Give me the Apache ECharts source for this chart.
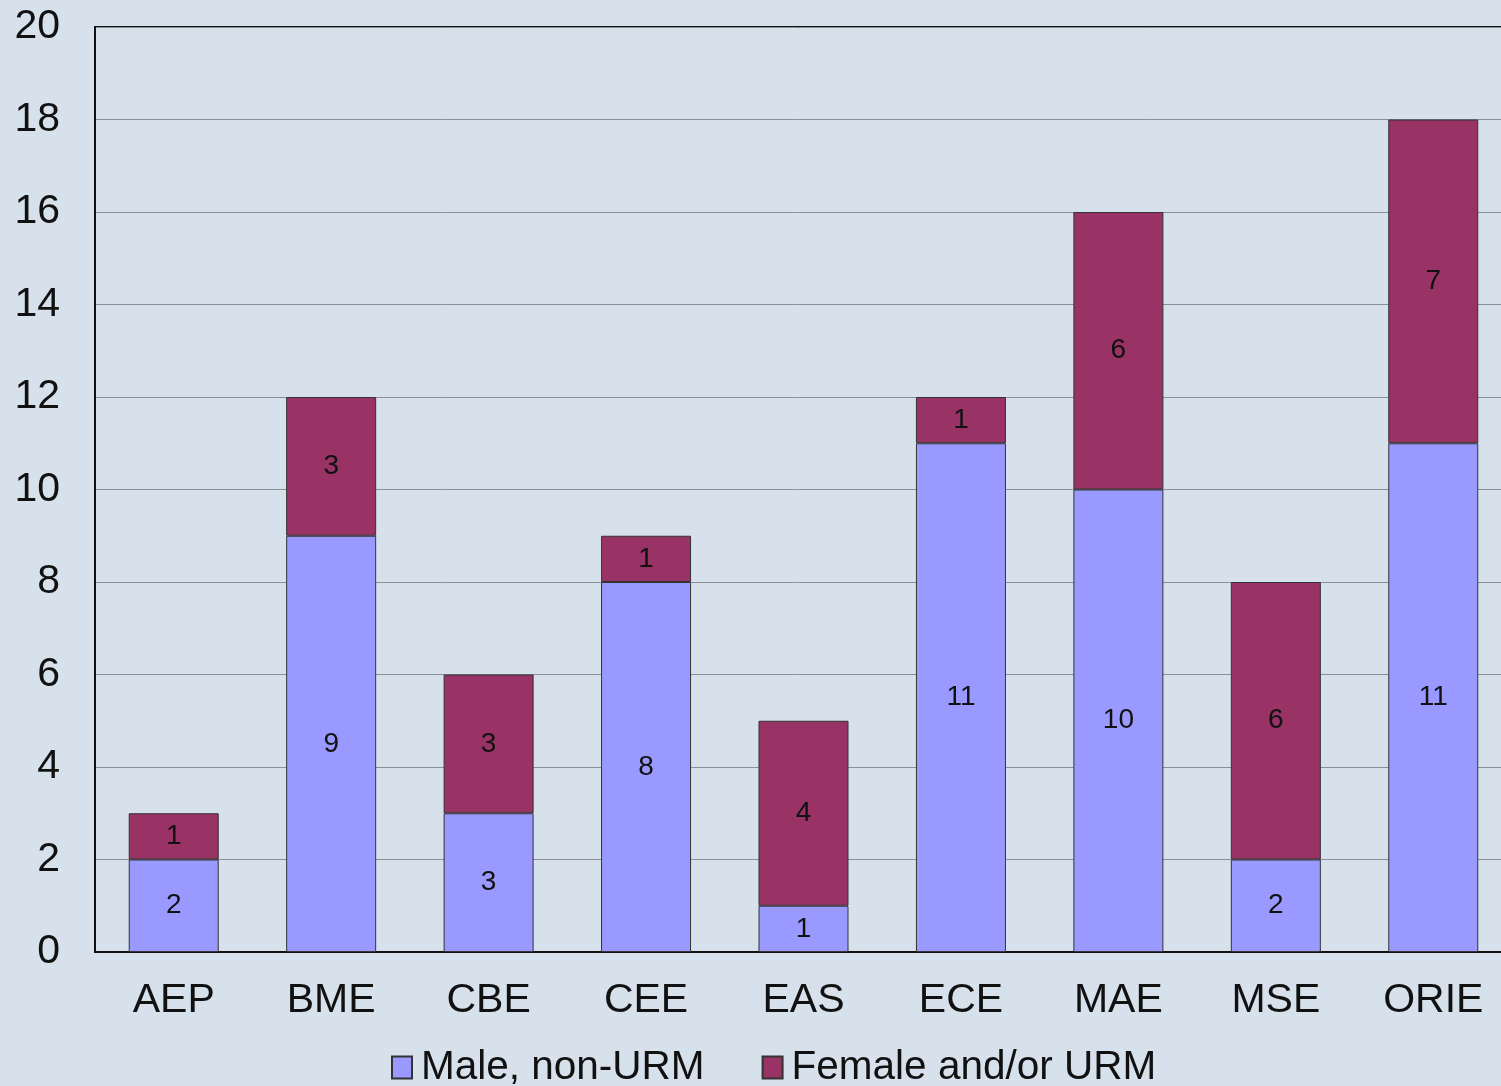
<!DOCTYPE html>
<html>
<head>
<meta charset="utf-8">
<script src="https://cdn.jsdelivr.net/npm/echarts@6/dist/echarts.min.js"></script>
<style>
  html, body { margin: 0; padding: 0; background: #d6e1ec; }
  #chart { width: 1501px; height: 1086px; }
</style>
</head>
<body>
<div id="chart"></div>
<script>
// departments
var depts = ['AEP', 'BME', 'CBE', 'CEE', 'EAS', 'ECE', 'MAE', 'MSE', 'ORIE'];
// counts per group
var maleNonUrm = [2, 9, 3, 8, 1, 11, 10, 2, 11];
var femaleUrm = [1, 3, 3, 1, 4, 1, 6, 6, 7];
var yTicks = [0, 20, 2];

var chart = echarts.init(document.getElementById('chart'));

var lbl = {
    show: true,
    position: 'inside',
    color: '#111',
    fontSize: 28,
    fontFamily: 'Liberation Sans'
};

var option = {
    backgroundColor: '#d6e1ec',
    animation: false,
    textStyle: { fontFamily: 'Liberation Sans' },
    grid: {
        left: 95, top: 27, bottom: 134, width: 1417,
        outerBoundsMode: 'none',
        containLabel: false,
        show: true,
        borderColor: '#111',
        borderWidth: 2,
        backgroundColor: 'transparent'
    },
    legend: {
        top: 1042,
        left: 386,
        itemWidth: 20,
        itemHeight: 22,
        itemGap: 57,
        icon: 'rect',
        textStyle: { fontSize: 40.5, color: '#111', padding: [0, 0, 0, 4] },
        data: ['Male, non-URM', 'Female and/or URM']
    },
    xAxis: {
        type: 'category',
        data: depts,
        axisLine: { lineStyle: { color: '#111', width: 2 } },
        axisTick: { show: false },
        axisLabel: { fontSize: 41, color: '#111', margin: 28 }
    },
    yAxis: {
        type: 'value',
        min: yTicks[0],
        max: yTicks[1],
        interval: yTicks[2],
        axisLine: { show: true, lineStyle: { color: '#111', width: 2 } },
        axisTick: { show: false },
        axisLabel: { fontSize: 41, color: '#111', margin: 35 },
        splitLine: { lineStyle: { color: '#8c9096', width: 1 } }
    },
    series: [
        {
            name: 'Male, non-URM',
            type: 'bar',
            stack: 'total',
            barWidth: 90,
            data: maleNonUrm,
            itemStyle: { color: '#9999ff', borderColor: '#333', borderWidth: 1 },
            label: lbl
        },
        {
            name: 'Female and/or URM',
            type: 'bar',
            stack: 'total',
            barWidth: 90,
            data: femaleUrm,
            itemStyle: { color: '#993366', borderColor: '#333', borderWidth: 1 },
            label: lbl
        }
    ]
};

chart.setOption(option);
</script>
</body>
</html>
